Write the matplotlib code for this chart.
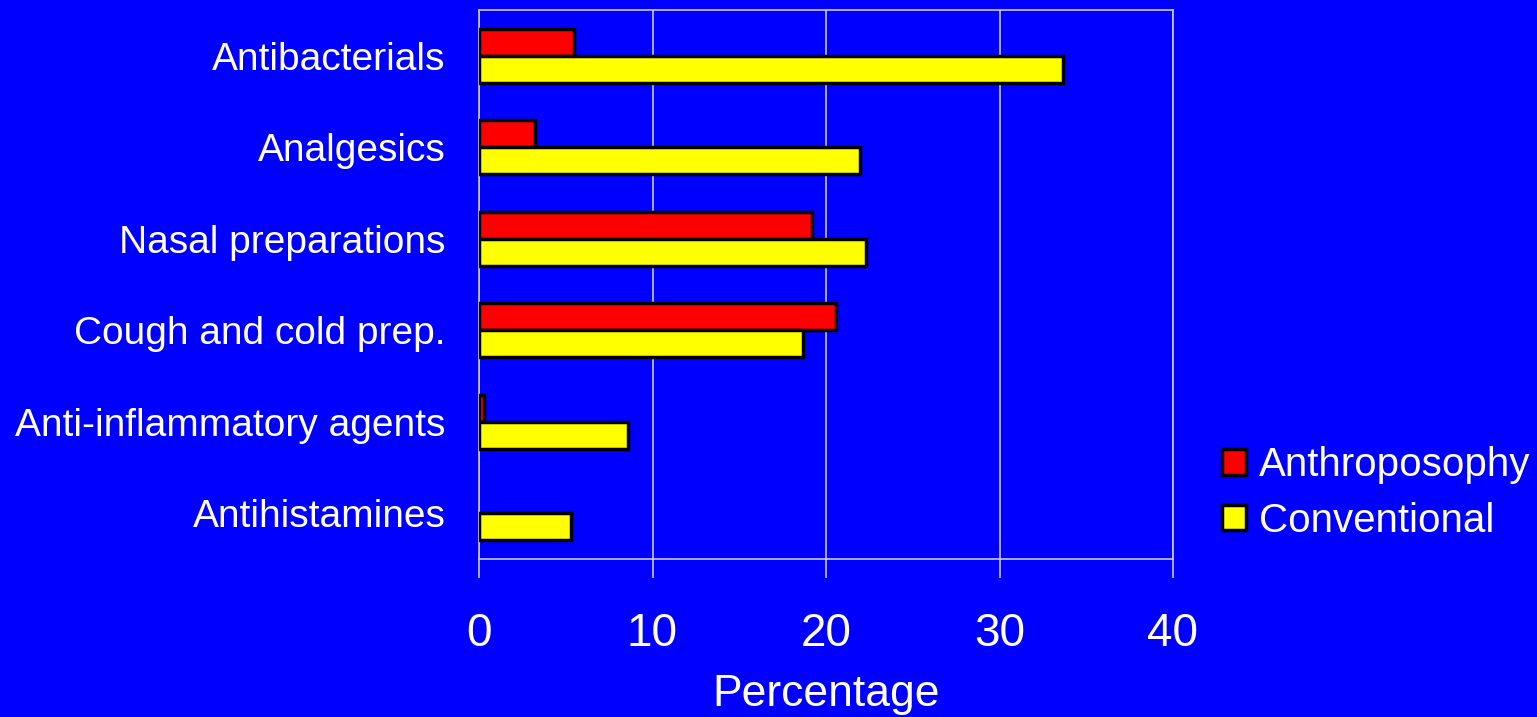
import matplotlib.pyplot as plt
import numpy as np

plt.rcParams['font.family'] = ['Liberation Sans', 'DejaVu Sans']

# Dados
categorias = ['Antibacterials', 'Analgesics', 'Nasal preparations',
              'Cough and cold prep.', 'Anti-inflammatory agents', 'Antihistamines']
antroposofia = [5.5, 3.25, 19.2, 20.6, 0.3, 0.0]
convencional = [33.65, 21.95, 22.3, 18.7, 8.6, 5.3]
series = ['Anthroposophy', 'Conventional']

azul = '#0000ff'
grade = '#c8c8ff'

fig = plt.figure(figsize=(15.37, 7.17), dpi=100, facecolor=azul)
ax = fig.add_axes([479 / 1537, 1 - 559 / 717, (1173 - 479) / 1537, (559 - 10) / 717])
ax.set_facecolor(azul)

y = np.arange(len(categorias))
h = 0.295
b1 = ax.barh(y - h / 2, antroposofia, height=h, color='#ff0000', edgecolor='black',
             linewidth=2.5, label=series[0], zorder=3)
b2 = ax.barh(y + h / 2, convencional, height=h, color='#ffff00', edgecolor='black',
             linewidth=2.5, label=series[1], zorder=3)
# barras com valor zero nao aparecem
for p in list(b1) + list(b2):
    if p.get_width() == 0:
        p.set_visible(False)

ax.set_xlim(0, 40)
ax.set_ylim(len(categorias) - 0.5, -0.5)
ax.set_xticks([0, 10, 20, 30, 40])
ax.set_yticks(y)
ax.set_yticklabels(categorias)
ax.tick_params(axis='y', length=0, pad=24, labelsize=28, labelcolor='white')
ax.tick_params(axis='x', length=14, width=1.2, color=grade, pad=24,
               labelsize=33, labelcolor='white')
ax.grid(axis='x', color=grade, linewidth=1.2, zorder=0)
for s in ax.spines.values():
    s.set_color(grade)
    s.set_linewidth(1.2)

ax.set_xlabel('Percentage', fontsize=32, color='white', labelpad=13)

fig.legend(loc='center left', bbox_to_anchor=(1186 / 1537, 1 - 493 / 717),
           frameon=False, fontsize=29, labelcolor='white', handlelength=0.6,
           handleheight=0.6, handletextpad=0.32, labelspacing=0.43)

fig.savefig('out.png', dpi=100, facecolor=azul)
